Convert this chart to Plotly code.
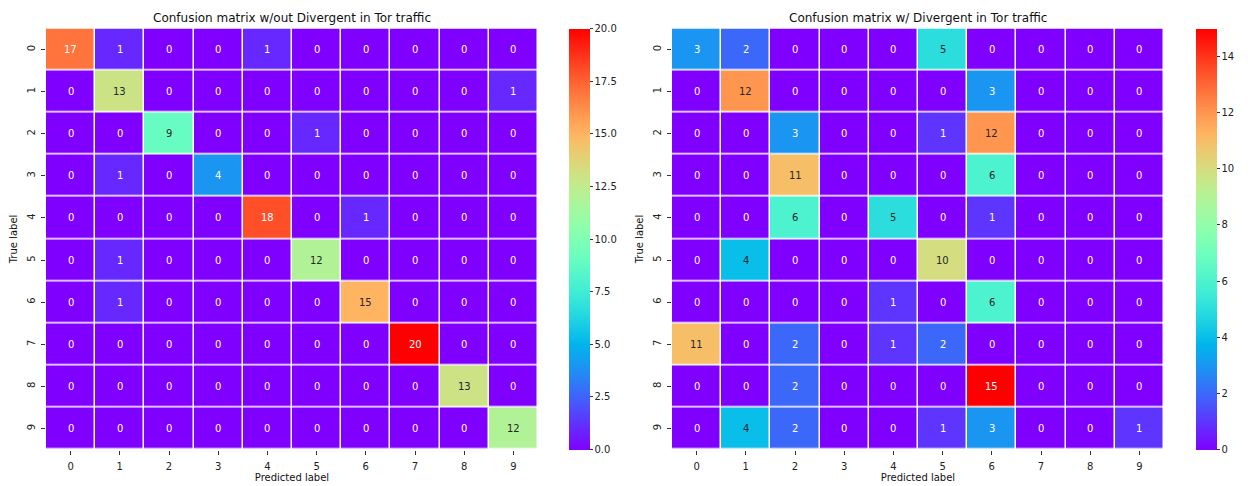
import math
import plotly.graph_objects as go

labels = [str(i) for i in range(10)]

cm_without = [
    [17, 1, 0, 0, 1, 0, 0, 0, 0, 0],
    [0, 13, 0, 0, 0, 0, 0, 0, 0, 1],
    [0, 0, 9, 0, 0, 1, 0, 0, 0, 0],
    [0, 1, 0, 4, 0, 0, 0, 0, 0, 0],
    [0, 0, 0, 0, 18, 0, 1, 0, 0, 0],
    [0, 1, 0, 0, 0, 12, 0, 0, 0, 0],
    [0, 1, 0, 0, 0, 0, 15, 0, 0, 0],
    [0, 0, 0, 0, 0, 0, 0, 20, 0, 0],
    [0, 0, 0, 0, 0, 0, 0, 0, 13, 0],
    [0, 0, 0, 0, 0, 0, 0, 0, 0, 12],
]

cm_with = [
    [3, 2, 0, 0, 0, 5, 0, 0, 0, 0],
    [0, 12, 0, 0, 0, 0, 3, 0, 0, 0],
    [0, 0, 3, 0, 0, 1, 12, 0, 0, 0],
    [0, 0, 11, 0, 0, 0, 6, 0, 0, 0],
    [0, 0, 6, 0, 5, 0, 1, 0, 0, 0],
    [0, 4, 0, 0, 0, 10, 0, 0, 0, 0],
    [0, 0, 0, 0, 1, 0, 6, 0, 0, 0],
    [11, 0, 2, 0, 1, 2, 0, 0, 0, 0],
    [0, 0, 2, 0, 0, 0, 15, 0, 0, 0],
    [0, 4, 2, 0, 0, 1, 3, 0, 0, 1],
]

titles = ["Confusion matrix w/out Divergent in Tor traffic",
          "Confusion matrix w/ Divergent in Tor traffic"]


def rainbow(t):
    r = min(1.0, abs(2 * t - 0.5))
    g = math.sin(math.pi * t)
    b = math.cos(math.pi * t / 2)
    return r, g, b


def to_css(c):
    return "rgb(%d,%d,%d)" % tuple(round(max(0, min(1, v)) * 255) for v in c)


colorscale = [[i / 64, to_css(rainbow(i / 64))] for i in range(65)]


def text_color(t):
    rgb = rainbow(t)
    lin = [v / 12.92 if v <= 0.03928 else ((v + 0.055) / 1.055) ** 2.4 for v in rgb]
    lum = 0.2126 * lin[0] + 0.7152 * lin[1] + 0.0722 * lin[2]
    return "#262626" if lum > 0.408 else "white"


W, H = 1251, 486
top_px, bot_px = 28.5, 449.5
y0 = 1 - bot_px / H
y1 = 1 - top_px / H
xdoms = [(46 / W, 538 / W), (672 / W, 1164 / W)]
cbx = [569 / W, 1196 / W]

fig = go.Figure()
annotations = []
for k, (mat, zmax, dtick, fmt) in enumerate([(cm_without, 20, 2.5, ".1f"), (cm_with, 15, 2, "d")]):
    xa = "x" if k == 0 else "x2"
    ya = "y" if k == 0 else "y2"
    fig.add_trace(go.Heatmap(
        z=mat, x=labels, y=labels, xaxis=xa, yaxis=ya,
        zmin=0, zmax=zmax, colorscale=colorscale, xgap=1.5, ygap=1.5,
        hoverongaps=False,
        colorbar=dict(
            x=cbx[k], xanchor="left", y=(y0 + y1) / 2, yanchor="middle",
            len=(y1 - y0), lenmode="fraction", thickness=21,
            xpad=0, ypad=0,
            outlinewidth=0, ticks="outside", ticklen=3, tickwidth=1,
            tickcolor="#333", tick0=0, dtick=dtick, tickformat=fmt,
            tickfont=dict(family="DejaVu Sans", size=10, color="#222"),
        ),
    ))
    for i, row in enumerate(mat):
        for j, v in enumerate(row):
            annotations.append(dict(
                x=labels[j], y=labels[i], xref=xa, yref=ya, text=str(v),
                showarrow=False,
                font=dict(family="DejaVu Sans", size=10, color=text_color(v / zmax)),
            ))
    annotations.append(dict(
        x=(xdoms[k][0] + xdoms[k][1]) / 2, y=1 - 18 / H, xref="paper", yref="paper",
        text=titles[k], showarrow=False, xanchor="center", yanchor="middle",
        font=dict(family="DejaVu Sans", size=12, color="#111"),
    ))

axis_common = dict(
    type="category", showgrid=False, zeroline=False, ticks="outside",
    ticklen=4, tickwidth=1, tickcolor="#333", showline=False,
    tickfont=dict(family="DejaVu Sans", size=10, color="#222"),
)
title_font = dict(family="DejaVu Sans", size=10, color="#111")

fig.update_layout(
    width=W, height=H, margin=dict(l=0, r=0, t=0, b=0),
    paper_bgcolor="white", plot_bgcolor="white",
    annotations=annotations,
    xaxis=dict(domain=list(xdoms[0]), anchor="y", ticklabelstandoff=3,
               title=dict(text="Predicted label", standoff=3, font=title_font),
               **axis_common),
    yaxis=dict(domain=[y0, y1], anchor="x", autorange="reversed", tickangle=-90,
               ticklabelstandoff=2,
               title=dict(text="True label", standoff=6, font=title_font),
               **axis_common),
    xaxis2=dict(domain=list(xdoms[1]), anchor="y2", ticklabelstandoff=3,
                title=dict(text="Predicted label", standoff=3, font=title_font),
                **axis_common),
    yaxis2=dict(domain=[y0, y1], anchor="x2", autorange="reversed", tickangle=-90,
                ticklabelstandoff=2,
                title=dict(text="True label", standoff=6, font=title_font),
                **axis_common),
    showlegend=False,
)

fig.write_html("out.html")
